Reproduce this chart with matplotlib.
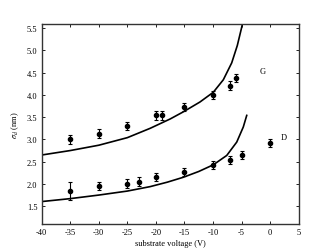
import matplotlib
matplotlib.use("Agg")
import matplotlib.pyplot as plt

plt.rcParams['font.family'] = ['Liberation Serif', 'DejaVu Serif']
plt.rcParams['mathtext.fontset'] = 'stix'

# Data points
g_x = [-35, -30, -25, -20, -19, -15, -10, -7, -6]
g_y = [3.00, 3.13, 3.30, 3.54, 3.54, 3.72, 4.00, 4.21, 4.38]
g_err = [0.10, 0.10, 0.09, 0.10, 0.10, 0.09, 0.09, 0.10, 0.10]

d_x = [-35, -30, -25, -23, -20, -15, -10, -7, -5, 0]
d_y = [1.84, 1.95, 2.00, 2.05, 2.15, 2.26, 2.43, 2.53, 2.64, 2.91]
d_err = [0.20, 0.09, 0.10, 0.10, 0.09, 0.09, 0.09, 0.09, 0.09, 0.09]

# Theory curves
gc_x = [-40, -35, -30, -25, -21, -17.5, -15.2, -12.3, -9.95, -8.2, -6.73, -5.75, -4.98, -4.85]
gc_y = [2.65, 2.75, 2.87, 3.04, 3.25, 3.46, 3.62, 3.84, 4.06, 4.34, 4.72, 5.11, 5.52, 5.60]

dc_x = [-40.3, -35, -30, -25, -21, -18, -15.2, -12.5, -9.95, -7.6, -5.85, -4.7, -4.1]
dc_y = [1.60, 1.67, 1.75, 1.84, 1.94, 2.04, 2.15, 2.28, 2.43, 2.64, 2.94, 3.28, 3.54]

xticks = [-40, -35, -30, -25, -20, -15, -10, -5, 0, 5]
yticks = [1.5, 2.0, 2.5, 3.0, 3.5, 4.0, 4.5, 5.0, 5.5]

fig = plt.figure(figsize=(3.32, 2.51), dpi=100)
ax = fig.add_axes([0.1256, 0.1036, 0.7741, 0.798])

ax.plot(gc_x, gc_y, color='black', lw=1.2, solid_joinstyle='round')
ax.plot(dc_x, dc_y, color='black', lw=1.2, solid_joinstyle='round')

ax.errorbar(g_x, g_y, yerr=g_err, fmt='o', color='black', ms=3.0,
            elinewidth=0.8, capsize=1.5, capthick=0.8)
ax.errorbar(d_x, d_y, yerr=d_err, fmt='o', color='black', ms=3.0,
            elinewidth=0.8, capsize=1.5, capthick=0.8)

ax.text(-1.3, 4.53, 'G', fontsize=6, ha='center', va='center')
ax.text(2.4, 3.05, 'D', fontsize=6, ha='center', va='center')

ax.set_xlim(-40, 5)
ax.set_ylim(1.1, 5.6)
ax.set_xticks(xticks)
ax.set_xticklabels([str(v) for v in xticks])
ax.set_yticks(yticks)
ax.set_yticklabels(['%.1f' % v for v in yticks])
ax.tick_params(direction='in', length=2.5, width=0.6, labelsize=6,
               top=True, right=True, pad=3)

for s in ax.spines.values():
    s.set_linewidth(1.0)
    s.set_color('#333333')

ax.set_xlabel('substrate voltage (V)', fontsize=6, labelpad=2)
ax.set_ylabel(r'$\sigma_d$ (nm)', fontsize=6, labelpad=4)

fig.savefig('out.png', dpi=100)
